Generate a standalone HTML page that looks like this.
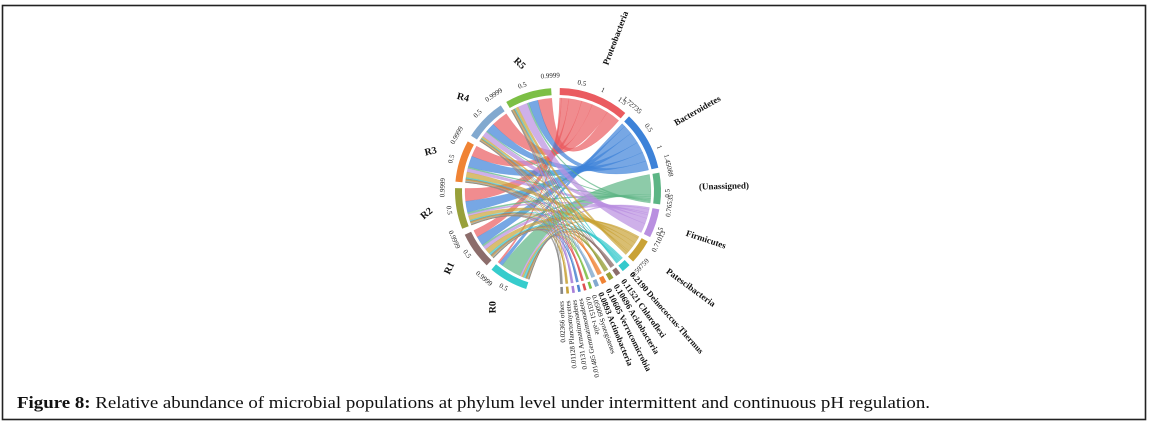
<!DOCTYPE html>
<html><head><meta charset="utf-8"><style>
html,body{margin:0;padding:0;background:#fff;}
svg{display:block;}
</style></head><body>
<svg id="chart" width="1154" height="431" viewBox="0 0 1154 431" xmlns="http://www.w3.org/2000/svg">
<rect x="2.5" y="5.5" width="1143" height="414" fill="none" stroke="#222" stroke-width="1.6"/>
<g id="chord"></g>
<text x="17" y="408" font-family="Liberation Serif, serif" font-size="17" textLength="913" lengthAdjust="spacingAndGlyphs" fill="#111"><tspan font-weight="bold">Figure 8:</tspan> Relative abundance of microbial populations at phylum level under intermittent and continuous pH regulation.</text>
</svg>
<script>
const phyla = ["Proteobacteria","Bacteroidetes","(Unassigned)","Firmicutes","Patescibacteria","Deinococcus-Thermus","Chloroflexi","Acidobacteria","Verrucomicrobia","Actinobacteria","Synergistetes","t-aile","Gemmatimonadetes","Armatimonadetes","Planctomycetes","others"];
const phylaTotals = ["1.72735","1.45088","0.76535","0.71013","0.59759","0.2190","0.11521","0.10696","0.10605","0.0893","0.05009","0.03151","0.01485","0.0131","0.01128","0.02366"];
const samples = ["R0","R1","R2","R3","R4","R5"];
const phylaColors = ["#ea5b60","#3d82d8","#5cb585","#b98fe0","#c9a236","#34c9cc","#8c6d6b","#98a03a","#f08334","#82a9cf","#7cbf45","#e05050","#4f86d0","#a77fd8","#c7a23a","#888"];
const sampleColors = ["#36cccc","#8c6d6b","#98a03a","#f08334","#82a9cf","#7cbf45"];
// rows: phyla, columns: R0..R5
const flows = [
 [0.05,0.20,0.35,0.30,0.45,0.38],
 [0.10,0.25,0.30,0.30,0.25,0.25],
 [0.55,0.05,0.05,0.04,0.03,0.05],
 [0.05,0.10,0.05,0.10,0.15,0.26],
 [0.05,0.15,0.12,0.15,0.05,0.08],
 [0.06,0.05,0.03,0.03,0.02,0.03],
 [0.02,0.03,0.02,0.02,0.01,0.02],
 [0.02,0.02,0.02,0.02,0.02,0.02],
 [0.02,0.02,0.02,0.02,0.02,0.02],
 [0.02,0.02,0.02,0.02,0.01,0.01],
 [0.01,0.01,0.01,0.01,0.01,0.01],
 [0.005,0.005,0.005,0.005,0.005,0.005],
 [0.003,0.003,0.003,0.003,0.002,0.002],
 [0.002,0.002,0.002,0.002,0.002,0.002],
 [0.002,0.002,0.002,0.002,0.002,0.002],
 [0.004,0.004,0.004,0.004,0.004,0.004]
];
const sampleTotalLabels = ["0.9999","0.9999","0.9999","0.9999","0.9999","0.9999"];

const NS="http://www.w3.org/2000/svg";
const g=document.getElementById('chord');
const cx=558, cy=191, R=103, Rin=96, Rrib=93;
const scale=23;
function pt(a,r){const t=(a-90)*Math.PI/180;return [cx+r*Math.cos(t),cy+r*Math.sin(t)];}
function el(tag,attrs){const e=document.createElementNS(NS,tag);for(const k in attrs)e.setAttribute(k,attrs[k]);return e;}
const rowSum=flows.map(r=>r.reduce((a,b)=>a+b,0));
const colSum=samples.map((s,j)=>flows.reduce((a,r)=>a+r[j],0));
const pStart=[],pEnd=[];let a=1;
phyla.forEach((p,i)=>{const w=Math.max(rowSum[i]*scale,1.5);pStart.push(a);pEnd.push(a+w);a+=w+(i<5?2.8:1.8);});
const sStart=[],sEnd=[];a=198;
samples.forEach((s,j)=>{const w=colSum[j]*scale;sStart.push(a);sEnd.push(a+w);a+=w+3.6;});
function arcPath(a0,a1,r0,r1){const la=(a1-a0)>180?1:0;const p0=pt(a0,r1),p1=pt(a1,r1),p2=pt(a1,r0),p3=pt(a0,r0);
 return `M${p0}A${r1},${r1} 0 ${la} 1 ${p1}L${p2}A${r0},${r0} 0 ${la} 0 ${p3}Z`;}
const pCur=pStart.slice(), sCur=sEnd.slice();
const ribG=el('g',{});g.appendChild(ribG);
phyla.forEach((p,i)=>{
 const w1=(pEnd[i]-pStart[i])/rowSum[i];
 samples.forEach((s,j)=>{
  const v=flows[i][j];
  const a0=pCur[i],a1=a0+v*w1;pCur[i]=a1;
  const w2=(sEnd[j]-sStart[j])/colSum[j];
  const b1=sCur[j],b0=b1-v*w2;sCur[j]=b0;
  const A0=pt(a0,Rrib),A1=pt(a1,Rrib),B0=pt(b0,Rrib),B1=pt(b1,Rrib);
  const d=`M${A0}A${Rrib},${Rrib} 0 0 1 ${A1}Q${cx},${cy} ${B0}A${Rrib},${Rrib} 0 0 1 ${B1}Q${cx},${cy} ${A0}Z`;
  const path=el('path',{d:d,fill:phylaColors[i],'fill-opacity':0.7,stroke:phylaColors[i],'stroke-opacity':0.5,'stroke-width':0.4});
  
  
  ribG.appendChild(path);
 });
});
function label(txt,ang,r,size,bold,name){
 const [x,y]=pt(ang,r);
 let rot=ang-90, anchor='start';
 if(ang>165 && ang<360){rot=ang+90;anchor='end';}
 const t=el('text',{x:x,y:y,'font-family':'Liberation Serif, serif','font-size':size,'font-weight':bold?'bold':'normal','text-anchor':anchor,'dominant-baseline':'middle',transform:`rotate(${rot} ${x} ${y})`,fill:'#111'});
 t.textContent=txt;
 
 
 g.appendChild(t);
}
function tickLabel(txt,ang,r,name){
 const [x,y]=pt(ang,r);
 let rot=ang; if(ang>90&&ang<270) rot=ang+180;
 const t=el('text',{x:x,y:y,'font-family':'Liberation Serif, serif','font-size':7,'text-anchor':'middle','dominant-baseline':'middle',transform:`rotate(${rot} ${x} ${y})`,fill:'#222'});
 t.textContent=txt;
 
 
 g.appendChild(t);
}
phyla.forEach((p,i)=>{
 const arc=el('path',{d:arcPath(pStart[i],pEnd[i],Rin,R),fill:phylaColors[i]});
 
 
 g.appendChild(arc);
 if(i<5){
  const step=(pEnd[i]-pStart[i])/rowSum[i];
  for(let v=0.5;v<rowSum[i]-0.1;v+=0.5) tickLabel(String(v),pStart[i]+v*step,R+7,'tick-label');
  tickLabel(phylaTotals[i],pEnd[i],R+10,'sector-total');
  label(p,(pStart[i]+pEnd[i])/2,R+(i==2?38:32),9,true,'sector-label');
 } else {
  label(phylaTotals[i]+' '+p,(pStart[i]+pEnd[i])/2,R+7,i<10?8.5:7,i<10,'sector-label');
 }
});
samples.forEach((s,j)=>{
 const arc=el('path',{d:arcPath(sStart[j],sEnd[j],Rin,R),fill:sampleColors[j]});
 
 
 g.appendChild(arc);
 const step=(sEnd[j]-sStart[j])/colSum[j];
 tickLabel('0.5',sStart[j]+0.5*step,R+8,'tick-label');
 tickLabel(sampleTotalLabels[j],sEnd[j],R+12,'sector-total');
 const mid=(sStart[j]+sEnd[j])/2;const [x,y]=pt(mid,R+30);
 const t=el('text',{x:x,y:y,'font-family':'Liberation Serif, serif','font-size':10,'font-weight':'bold','text-anchor':'middle','dominant-baseline':'middle',transform:`rotate(${mid-300} ${x} ${y})`,fill:'#111'});
 t.textContent=s;
 
 
 g.appendChild(t);
});
</script>
</body></html>
